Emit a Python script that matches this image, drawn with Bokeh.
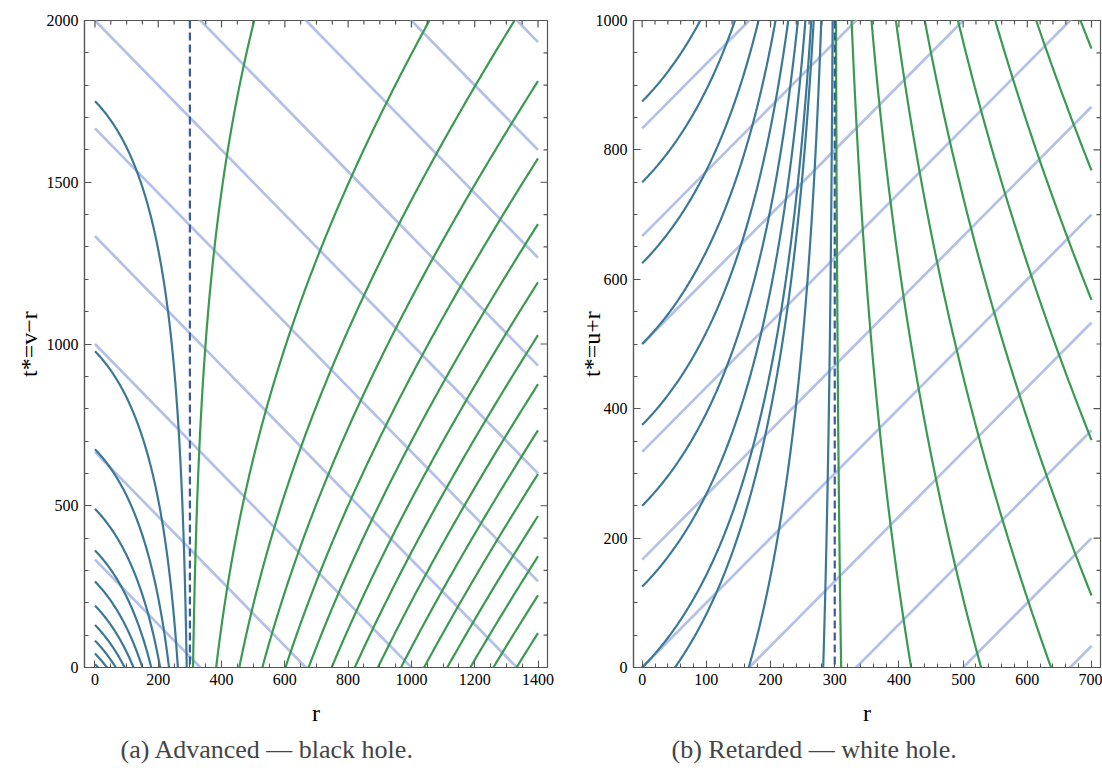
import numpy as np
from bokeh.plotting import figure
from bokeh.layouts import row
from bokeh.models import Range1d, SingleIntervalTicker, Span, Title
from bokeh.embed import file_html
from bokeh.resources import INLINE

# Schwarzschild radius 2M of the hole
R_S = 300.0

# Advanced (ingoing) Eddington-Finkelstein chart
adv_v_lines = [333.3, 666.7, 1000.0, 1333.3, 1666.7, 2000.0, 2333.3, 2666.7, 3000.0, 3333.3]
adv_inner_r0 = [10, 38, 66, 94, 122, 150, 178, 206, 234, 262, 290]
adv_outer_r0 = [310, 383, 456, 529, 602, 675, 748, 821, 894, 967, 1040, 1113, 1186, 1259, 1332]

# Retarded (outgoing) Eddington-Finkelstein chart
ret_u_lines = [-666.7, -500.0, -333.3, -166.7, 0.0, 166.7, 333.3, 500.0, 666.7, 833.3]
ret_inner_t0 = [0, 125, 250, 375, 500, 625, 750, 875]
ret_inner_r0 = [51, 166, 282]
ret_outer_r0 = [310, 419, 528, 637, 746, 855, 964, 1073, 1182]

DARK = "#3b7896"
GREEN = "#3a9a52"
LIGHT = "#b3c1ea"
HORIZON = "#3d5a9c"
FRAME = "#555555"
FONT = "Liberation Serif"


def log_term(r):
    return 2.0 * R_S * np.log(np.abs(np.asarray(r, dtype=float) / R_S - 1.0))


def radial_samples(inside, r_max):
    if inside:
        d = np.geomspace(1e-12, R_S, 5000)
        return (R_S - d)[::-1]
    d = np.geomspace(1e-12, r_max - R_S, 5000)
    return R_S + d


def keep(r, t, lo, hi):
    m = (t >= lo) & (t <= hi)
    return r[m], t[m]


def style(p, xint, xminor, yint, yminor):
    xr, yr = p.x_range, p.y_range
    p.xaxis.ticker = SingleIntervalTicker(interval=xint, num_minor_ticks=xminor)
    p.yaxis.ticker = SingleIntervalTicker(interval=yint, num_minor_ticks=yminor)
    for ax in p.axis:
        ax.axis_line_color = FRAME
        ax.axis_line_width = 1.2
        ax.major_tick_line_color = FRAME
        ax.minor_tick_line_color = FRAME
        ax.major_tick_in = 7
        ax.major_tick_out = 0
        ax.minor_tick_in = 4
        ax.minor_tick_out = 0
        ax.major_label_text_font = FONT
        ax.major_label_text_font_size = "16px"
        ax.major_label_text_color = "black"
        ax.major_label_standoff = 6
        ax.axis_label_text_font = FONT
        ax.axis_label_text_font_style = "normal"
        ax.axis_label_text_font_size = "24px"
        ax.axis_label_text_color = "black"
    p.xgrid.visible = False
    p.ygrid.visible = False
    p.outline_line_color = FRAME
    p.outline_line_width = 1.2
    p.outline_line_alpha = 1.0
    p.background_fill_color = "white"
    p.border_fill_color = "white"

    # unlabelled ticks along the top and right edges of the frame
    step_x = xint / xminor
    step_y = yint / yminor
    xs = np.arange(np.ceil(xr.start / step_x) * step_x, xr.end + 1e-9, step_x)
    ys = np.arange(np.ceil(yr.start / step_y) * step_y, yr.end + 1e-9, step_y)
    x_major = np.isclose(np.mod(xs, xint), 0) | np.isclose(np.mod(xs, xint), xint)
    y_major = np.isclose(np.mod(ys, yint), 0) | np.isclose(np.mod(ys, yint), yint)
    for sel, size in ((x_major, 14), (~x_major, 8)):
        p.scatter(xs[sel], np.full(sel.sum(), yr.end), marker="dash", angle=np.pi / 2,
                  size=size, line_color=FRAME, line_width=1.2)
    for sel, size in ((y_major, 14), (~y_major, 8)):
        p.scatter(np.full(sel.sum(), xr.end), ys[sel], marker="dash",
                  size=size, line_color=FRAME, line_width=1.2)


def caption(p, text, offset):
    p.add_layout(Title(text=text, align="left", offset=offset,
                       text_font=FONT, text_font_size="26px", text_font_style="normal",
                       standoff=8), "below")


# ---------------- (a) advanced coordinates ----------------
a_rmax, a_tmax = 1400.0, 2000.0
pa = figure(width=570, height=778, x_range=Range1d(-33, 1430), y_range=Range1d(0, a_tmax),
            output_backend="svg", toolbar_location=None,
            min_border_left=84, min_border_right=23, min_border_top=20, min_border_bottom=111)

# ingoing null rays v = const: t* = v - r
for v in adv_v_lines:
    pa.line([0, a_rmax], [v, v - a_rmax], line_color=LIGHT, line_width=2.7)

# outgoing null rays: t* = u + r + 4M ln|r/2M - 1|
for r0 in adv_inner_r0:
    u = -r0 - log_term(r0)
    r = radial_samples(True, a_rmax)
    t = u + r + log_term(r)
    r, t = keep(r, t, -60, a_tmax + 60)
    pa.line(r, t, line_color=DARK, line_width=2.2)
for r0 in adv_outer_r0:
    u = -r0 - log_term(r0)
    r = radial_samples(False, a_rmax)
    t = u + r + log_term(r)
    r, t = keep(r, t, -60, a_tmax + 60)
    pa.line(r, t, line_color=GREEN, line_width=2.2)

pa.add_layout(Span(location=R_S, dimension="height", line_color=HORIZON,
                   line_width=2.2, line_dash="8 4"))
style(pa, 200, 4, 500, 5)
pa.below[0].axis_label = "r"
pa.below[0].axis_label_standoff = 12
pa.left[0].axis_label = "t*=v\u2212r"
pa.left[0].axis_label_standoff = 2
caption(pa, "(a)  Advanced \u2014 black hole.", 36)

# ---------------- (b) retarded coordinates ----------------
b_rmax, b_tmax = 700.0, 1000.0
pb = figure(width=532, height=778, x_range=Range1d(-13.5, 714), y_range=Range1d(0, b_tmax),
            output_backend="svg", toolbar_location=None,
            min_border_left=63, min_border_right=2, min_border_top=13, min_border_bottom=111)

# outgoing null rays u = const: t* = u + r
for u in ret_u_lines:
    pb.line([0, b_rmax], [u, u + b_rmax], line_color=LIGHT, line_width=2.7)

# ingoing null rays: t* = v - r - 4M ln|r/2M - 1|
inner_v = list(ret_inner_t0) + [r0 + float(log_term(r0)) for r0 in ret_inner_r0]
for v in inner_v:
    r = radial_samples(True, b_rmax)
    t = v - r - log_term(r)
    r, t = keep(r, t, -60, b_tmax + 60)
    pb.line(r, t, line_color=DARK, line_width=2.2)
for r0 in ret_outer_r0:
    v = r0 + log_term(r0)
    r = radial_samples(False, b_rmax)
    t = v - r - log_term(r)
    r, t = keep(r, t, -60, b_tmax + 60)
    pb.line(r, t, line_color=GREEN, line_width=2.2)

pb.add_layout(Span(location=R_S, dimension="height", line_color=HORIZON,
                   line_width=2.2, line_dash="8 4"))
style(pb, 100, 5, 200, 4)
pb.below[0].axis_label = "r"
pb.below[0].axis_label_standoff = 12
pb.left[0].axis_label = "t*=u+r"
pb.left[0].axis_label_standoff = -12
caption(pb, "(b)  Retarded \u2014 white hole.", 38)

layout = row(pa, pb, spacing=0)
open("out.html", "w").write(file_html(layout, INLINE))
